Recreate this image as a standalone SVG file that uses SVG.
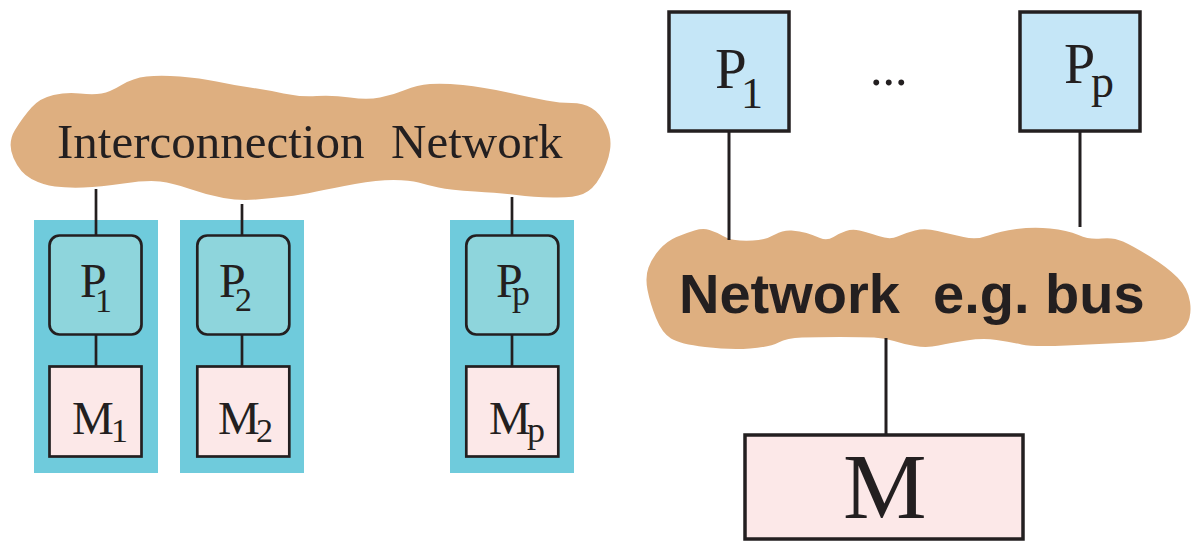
<svg xmlns="http://www.w3.org/2000/svg" width="1192" height="542" viewBox="0 0 1192 542">
<style>
.cloud{fill:#DEAF80;stroke:none}
.col{fill:#6FCBDC;stroke:none}
.pbox{fill:#8ED5DC;stroke:#231F20;stroke-width:2.7}
.mbox{fill:#FCE8E8;stroke:#231F20;stroke-width:2.7}
.rp{fill:#C5E6F7;stroke:#231F20;stroke-width:3.5}
.rm{fill:#FCE8E8;stroke:#231F20;stroke-width:3.5}
.serif{font-family:"Liberation Serif","Times New Roman",serif;fill:#231F20}
.bold{font-family:"Liberation Sans",Arial,sans-serif;font-weight:bold;fill:#231F20}
.conn line{stroke:#231F20;stroke-width:2.7}
.conn line.thick{stroke-width:3}
</style>
<rect width="1192" height="542" fill="#FFFFFF"/>
<g id="interconnection-network">
<path class="cloud" d="M13.5,158 Q7,143 15,130 Q23,117 31.5,107.5 Q40,98 53.5,95 Q67,92 80,93.5 Q93,95 101.5,93.5 Q110,92 121.5,85 Q133,78 146.5,76.5 Q160,75 180,76.5 Q200,78 216.5,81.5 Q233,85 250,87.5 Q267,90 283.5,93.5 Q300,97 316.5,96 Q333,95 350,97.5 Q367,100 380,97.5 Q393,95 405,90 Q417,85 430,84 Q443,83 463,85 Q483,87 508,92.5 Q533,98 546.5,100.5 Q560,103 571.5,103 Q583,103 591.5,108 Q600,113 606,125 Q612,137 610,150 Q608,163 600.5,176.5 Q593,190 583,194 Q573,198 553,197.5 Q533,197 516.5,195 Q500,193 475,191.5 Q450,190 438.5,187.5 Q427,185 418.5,182.5 Q410,180 393.5,180 Q377,180 355,184 Q333,188 316.5,191.5 Q300,195 286.5,196.5 Q273,198 256.5,199.5 Q240,201 223.5,198 Q207,195 190,189 Q173,183 160,181.5 Q147,180 123.5,183.5 Q100,187 83.5,187.5 Q67,188 55,186.5 Q43,185 31.5,179 Q20,173 13.5,158 Z"/>
<text class="serif" font-size="49" y="158"><tspan x="57">Interconnection</tspan><tspan x="391">Network</tspan></text>
</g>
<g id="col1">
<rect class="col" x="34" y="220" width="124" height="253"/>
<g id="p1"><rect class="pbox" x="49.5" y="235.5" width="92" height="99" rx="10"/>
<text class="serif" font-size="48" x="80" y="297">P<tspan x="95" y="312" font-size="34">1</tspan></text></g>
<g id="m1"><rect class="mbox" x="49.5" y="366.5" width="92" height="90"/>
<text class="serif" font-size="47" x="72" y="434">M<tspan x="111" y="442" font-size="34">1</tspan></text></g>
</g>
<g id="col2">
<rect class="col" x="180" y="220" width="124" height="253"/>
<g id="p2"><rect class="pbox" x="197.3" y="235.5" width="92" height="99" rx="10"/>
<text class="serif" font-size="48" x="219" y="297">P<tspan x="235" y="311" font-size="34">2</tspan></text></g>
<g id="m2"><rect class="mbox" x="197.3" y="366.5" width="92" height="90"/>
<text class="serif" font-size="47" x="218" y="434">M<tspan x="256" y="442" font-size="34">2</tspan></text></g>
</g>
<g id="colp">
<rect class="col" x="450" y="220" width="124" height="253"/>
<g id="pp"><rect class="pbox" x="466.3" y="235.5" width="92" height="99" rx="10"/>
<text class="serif" font-size="48" x="496" y="297">P<tspan x="512" y="305" font-size="36">p</tspan></text></g>
<g id="mp"><rect class="mbox" x="466.3" y="366.5" width="92" height="90"/>
<text class="serif" font-size="47" x="489" y="434">M<tspan x="527" y="442" font-size="36">p</tspan></text></g>
</g>
<g id="bus-network">
<path class="cloud" d="M647.5,290 Q645,277 648.5,267.5 Q652,258 659.5,249.5 Q667,241 676.5,237 Q686,233 694.5,230.5 Q703,228 709.5,230 Q716,232 723,236 Q730,240 740,240.5 Q750,241 758.5,240 Q767,239 775,234.5 Q783,230 791.5,230.5 Q800,231 806.5,233 Q813,235 820,238 Q827,241 833.5,237 Q840,233 846,231 Q852,229 859.5,230.5 Q867,232 878.5,236 Q890,240 897.5,236.5 Q905,233 915,230.5 Q925,228 937.5,231 Q950,234 963.5,237 Q977,240 988.5,235.5 Q1000,231 1016.5,229 Q1033,227 1050,228.5 Q1067,230 1078.5,235 Q1090,240 1101.5,238.5 Q1113,237 1123,241.5 Q1133,246 1150,256.5 Q1167,267 1177.5,277.5 Q1188,288 1190,302 Q1192,316 1186.5,325 Q1181,334 1170.5,337.5 Q1160,341 1130,342.5 Q1100,344 1066.5,345.5 Q1033,347 1021.5,344.5 Q1010,342 996.5,340 Q983,338 966.5,340.5 Q950,343 938.5,345.5 Q927,348 915,346 Q903,344 894,341 Q885,338 874,337.5 Q863,337 840,337 Q817,337 802,337.5 Q787,338 778.5,342.5 Q770,347 750,348.5 Q730,350 705,347 Q680,344 671,338.5 Q662,333 656,318 Q650,303 647.5,290 Z"/>
<text class="bold" font-size="56" y="313"><tspan x="679">Network</tspan><tspan x="933">e.g. bus</tspan></text>
</g>
<g id="rp1"><rect class="rp" x="669" y="12" width="120" height="119"/>
<text class="serif" font-size="57" x="715" y="88">P<tspan x="741" y="108" font-size="44">1</tspan></text></g>
<g id="dots"><text class="serif" font-size="50" x="870" y="85">...</text></g>
<g id="rpp"><rect class="rp" x="1020" y="12" width="120" height="119"/>
<text class="serif" font-size="56" x="1064" y="83">P<tspan x="1091" y="97" font-size="46">p</tspan></text></g>
<g id="rm"><rect class="rm" x="745" y="435" width="278" height="104"/>
<text class="serif" font-size="94" x="843" y="518">M</text></g>
<g id="connectors" class="conn">
<line x1="96" y1="189" x2="96" y2="235"/>
<line x1="96" y1="334" x2="96" y2="366"/>
<line x1="242" y1="204" x2="242" y2="235"/>
<line x1="242" y1="334" x2="242" y2="366"/>
<line x1="512" y1="197" x2="512" y2="235"/>
<line x1="512" y1="334" x2="512" y2="366"/>
<line class="thick" x1="729" y1="131" x2="729" y2="240"/>
<line class="thick" x1="1080" y1="131" x2="1080" y2="227"/>
<line class="thick" x1="886" y1="338" x2="886" y2="435"/>
</g>
</svg>
